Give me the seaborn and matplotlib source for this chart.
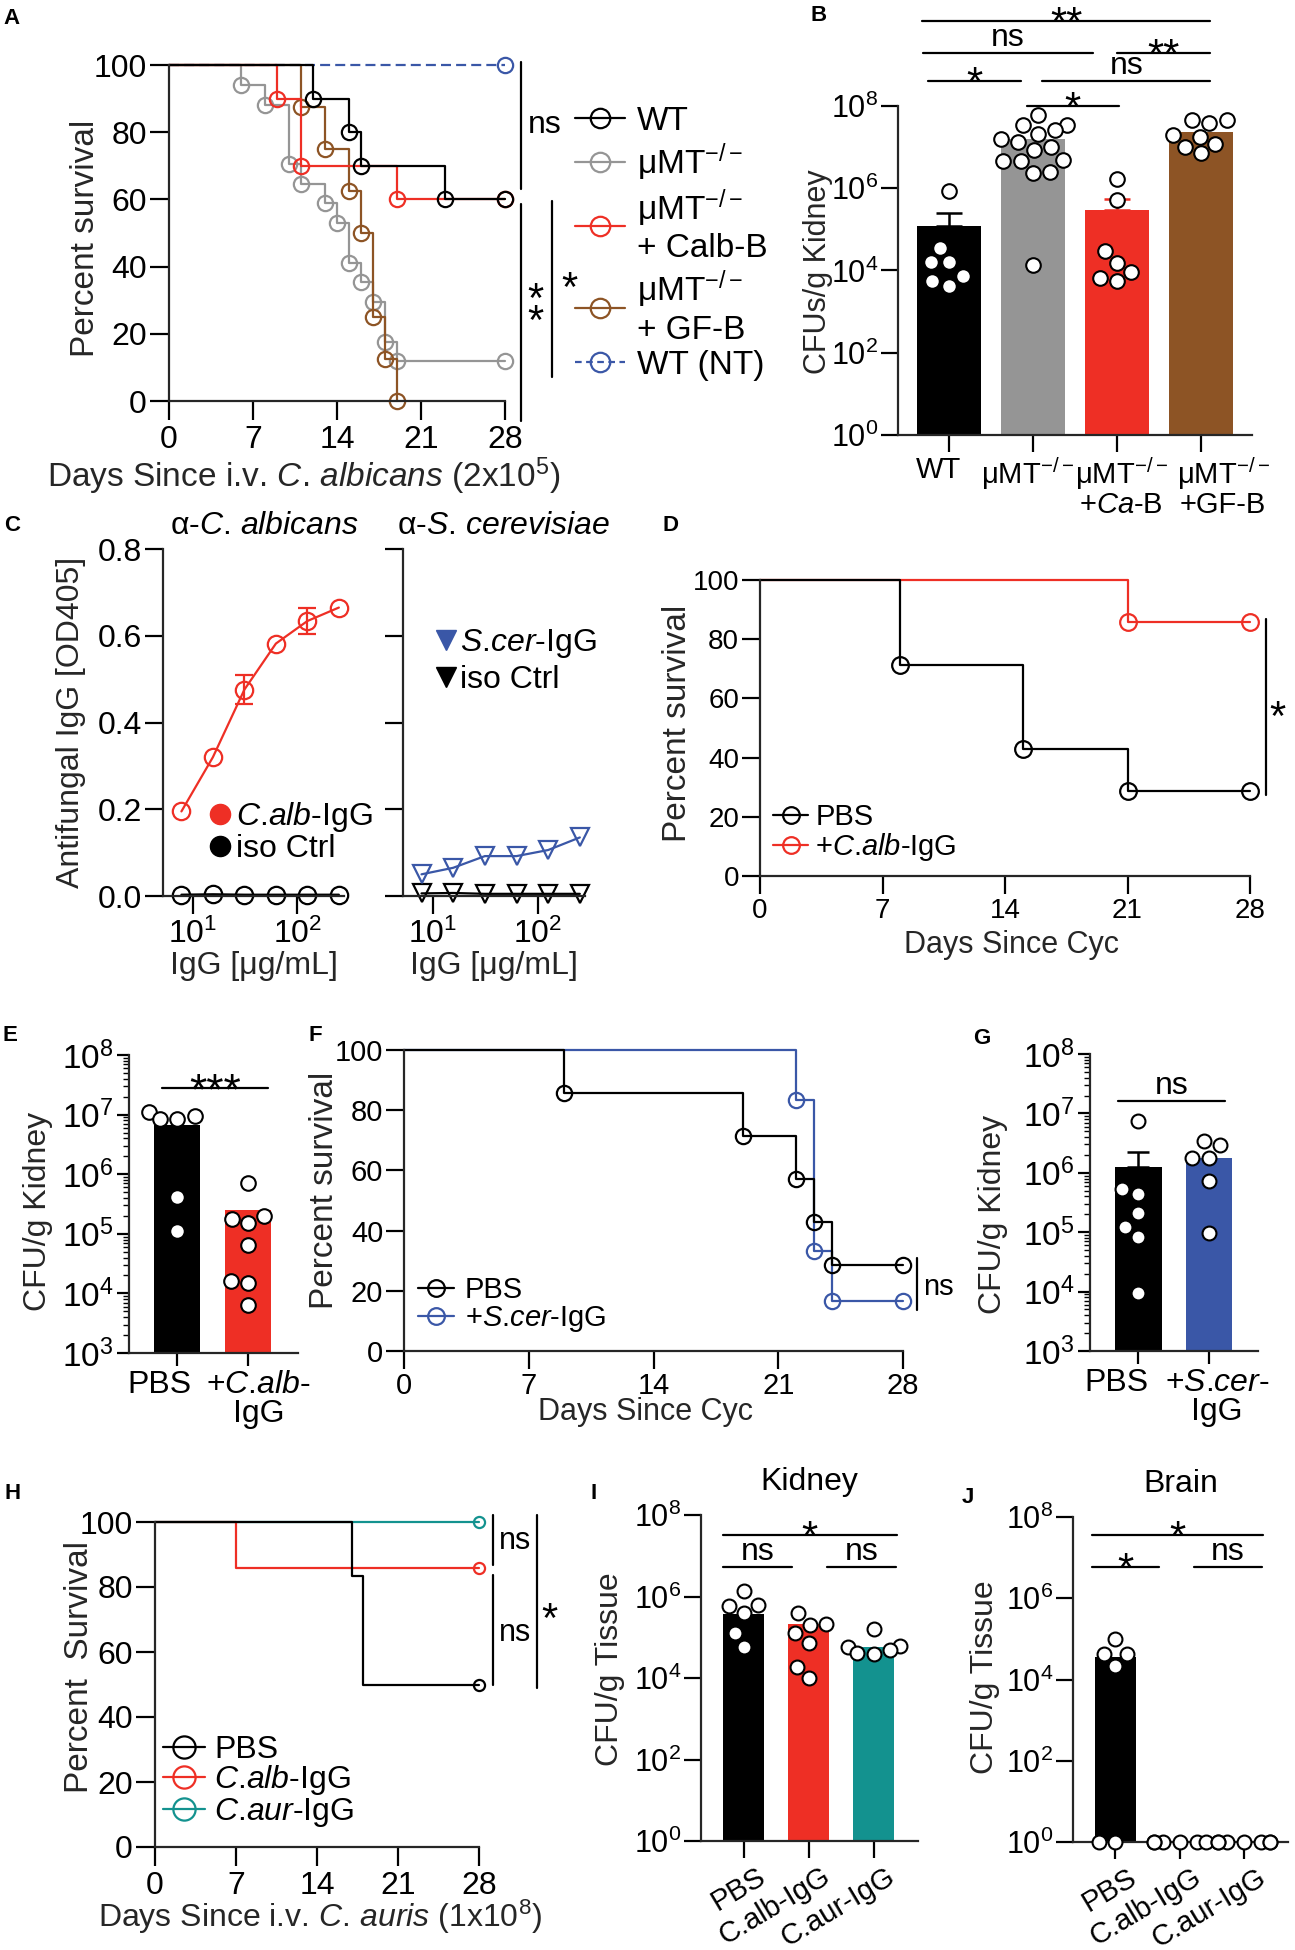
import numpy as np
import pandas as pd
import matplotlib
matplotlib.use("Agg")
import matplotlib.pyplot as plt
from matplotlib.lines import Line2D
from matplotlib.ticker import NullLocator, LogLocator
from matplotlib.transforms import ScaledTranslation
import seaborn as sns

# ---------------- data ----------------
days = [0, 7, 14, 21, 28]
pct_ticks = [0, 20, 40, 60, 80, 100]

# A: survival after i.v. C. albicans
a_wt_t = [0, 12, 15, 16, 23, 28]
a_wt_s = [100, 90, 80, 70, 60, 60]
a_mmt_t = [0, 6, 8, 10, 11, 13, 14, 15, 16, 17, 18, 19, 28]
a_mmt_s = [100, 94.1, 88.2, 70.6, 64.7, 58.8, 52.9, 41.2, 35.3, 29.4, 17.6, 11.8, 11.8]
a_calb_t = [0, 9, 11, 19, 28]
a_calb_s = [100, 90, 70, 60, 60]
a_gfb_t = [0, 11, 13, 15, 16, 17, 18, 19]
a_gfb_s = [100, 87.5, 75, 62.5, 50, 25, 12.5, 0]
a_nt_t = [0, 28]
a_nt_s = [100, 100]
a_legend = ["WT", "μMT$^{-/-}$", "μMT$^{-/-}$\n+ Calb-B", "μMT$^{-/-}$\n+ GF-B", "WT (NT)"]

# B: kidney CFU
b_groups = ["WT", "uMT", "uMT_CaB", "uMT_GFB"]
b_ticklabels = ["WT", "μMT$^{-/-}$", "μMT$^{-/-}$\n+$\\it{Ca}$-B", "μMT$^{-/-}$\n+GF-B"]
b_means = [1.2e5, 1.55e7, 3.0e5, 2.3e7]
b_sem = [1.3e5, 0, 2.6e5, 0]
b_wt = [8.7e5, 3.6e4, 1.6e4, 1.6e4, 7.5e3, 4.3e3, 5.5e3]
b_mmt = [6.0e7, 3.5e7, 3.5e7, 2.6e7, 2.1e7, 1.6e7, 1.35e7, 1.0e7, 8.5e6,
         4.9e6, 4.5e6, 4.5e6, 2.5e6, 2.3e6, 1.35e4]
b_cab = [1.66e6, 5.1e5, 2.9e4, 1.5e4, 9.3e3, 6.6e3, 5.5e3]
b_gfb = [4.6e7, 4.6e7, 3.9e7, 1.95e7, 1.8e7, 1.2e7, 1.0e7, 7.1e6]

# C: ELISA
c_conc = [7.8, 15.6, 31.25, 62.5, 125, 250]
c_calb = [0.195, 0.32, 0.476, 0.582, 0.634, 0.665]
c_calb_err = [0, 0, 0.034, 0, 0.03, 0]
c_calb_iso = [0.003, 0.004, 0.003, 0.003, 0.003, 0.003]
c_scer = [0.05, 0.065, 0.092, 0.092, 0.106, 0.135]
c_scer_iso = [0.006, 0.007, 0.005, 0.005, 0.005, 0.005]
od_ticks = [0.0, 0.2, 0.4, 0.6, 0.8]

# D: survival after Cyc, PBS vs C.alb-IgG
d_pbs_t = [0, 8, 15, 21, 28]
d_pbs_s = [100, 71.4, 42.9, 28.6, 28.6]
d_calb_t = [0, 21, 28]
d_calb_s = [100, 85.7, 85.7]

# E: kidney CFU, PBS vs C.alb-IgG
e_groups = ["PBS", "Calb"]
e_ticklabels = ["PBS", "+$\\it{C}$.$\\it{alb}$-\nIgG"]
e_means = [6.6e6, 2.5e5]
e_pbs = [1.1e7, 9.3e6, 8.5e6, 8.5e6, 4.1e5, 1.1e5]
e_calb = [7.1e5, 2.0e5, 1.8e5, 1.5e5, 6.6e4, 1.6e4, 1.5e4, 6.5e3]

# F: survival after Cyc, PBS vs S.cer-IgG
f_pbs_t = [0, 9, 19, 22, 23, 24, 28]
f_pbs_s = [100, 85.7, 71.4, 57.1, 42.9, 28.6, 28.6]
f_scer_t = [0, 22, 23, 24, 28]
f_scer_s = [100, 83.3, 33.3, 16.7, 16.7]

# G: kidney CFU, PBS vs S.cer-IgG
g_groups = ["PBS", "Scer"]
g_ticklabels = ["PBS", "+$\\it{S}$.$\\it{cer}$-\nIgG"]
g_means = [1.23e6, 1.8e6]
g_sem = [1.0e6, 0]
g_pbs = [7.4e6, 5.4e5, 4.4e5, 2.1e5, 1.2e5, 8.3e4, 9.3e3]
g_scer = [3.4e6, 2.9e6, 1.8e6, 1.8e6, 7.4e5, 9.8e4]

# H: survival after i.v. C. auris
h_pbs_t = [0, 17, 18, 28]
h_pbs_s = [100, 83.3, 50, 50]
h_calb_t = [0, 7, 28]
h_calb_s = [100, 85.7, 85.7]
h_caur_t = [0, 28]
h_caur_s = [100, 100]

# I / J: kidney and brain CFU
ij_groups = ["PBS", "Calb", "Caur"]
ij_ticklabels = ["PBS", "C.alb-IgG", "C.aur-IgG"]
i_means = [3.8e5, 2.1e5, 5.9e4]
i_pbs = [1.4e6, 6.2e5, 6.0e5, 3.9e5, 1.26e5, 5.9e4]
i_calb = [3.9e5, 2.1e5, 2.0e5, 1.26e5, 7.4e4, 1.9e4, 1.0e4]
i_caur = [1.55e5, 6.0e4, 5.9e4, 5.0e4, 4.0e4, 3.9e4]
j_means = [3.5e4, 1, 1]
j_pbs = [1.0e5, 4.3e4, 4.3e4, 2.2e4, 1, 1]
j_calb = [1, 1, 1, 1, 1, 1]
j_caur = [1, 1, 1, 1, 1, 1, 1]

log8_ticks = [1, 1e2, 1e4, 1e6, 1e8]
log8_labels = ["$10^0$", "$10^2$", "$10^4$", "$10^6$", "$10^8$"]
log38_ticks = [1e3, 1e4, 1e5, 1e6, 1e7, 1e8]
log38_labels = ["$10^3$", "$10^4$", "$10^5$", "$10^6$", "$10^7$", "$10^8$"]

# ---------------- style ----------------
BLACK, GRAY, RED, BROWN = "#000000", "#959595", "#ee2f25", "#8d5425"
BLUE, TEAL = "#3a57a7", "#13928f"
REG = ["Liberation Sans", "DejaVu Sans"]
LW = 1.6

sns.set_style("ticks")
plt.rcParams["font.family"] = REG
plt.rcParams["mathtext.fontset"] = "custom"
plt.rcParams["mathtext.rm"] = "Liberation Sans"
plt.rcParams["mathtext.it"] = "Liberation Sans:italic"
plt.rcParams["mathtext.bf"] = "Liberation Sans:bold"
plt.rcParams["axes.linewidth"] = LW
plt.rcParams["text.color"] = "black"
plt.rcParams["xtick.color"] = "black"
plt.rcParams["ytick.color"] = "black"

W, H = 1295, 1950
fig = plt.figure(figsize=(W / 100, H / 100), dpi=100)


def add_ax(x0, y0, x1, y1):
    return fig.add_axes([x0 / W, 1 - y1 / H, (x1 - x0) / W, (y1 - y0) / H])


def frame(ax, xlen=9, ylen=9):
    sns.despine(ax=ax)
    ax.set_facecolor("none")
    ax.tick_params(axis="x", which="major", length=xlen, width=LW, direction="out", pad=3)
    ax.tick_params(axis="y", which="major", length=ylen, width=LW, direction="out", pad=2)


def ylab(ax, text, x, y, size):
    ax.set_ylabel(text, fontsize=size)
    ax.yaxis.set_label_coords(x / W, 1 - y / H, transform=fig.transFigure)


def xlab(ax, text, x, y, size):
    ax.set_xlabel(text, fontsize=size)
    ax.xaxis.set_label_coords(x / W, 1 - y / H, transform=fig.transFigure)


def letter(ch, x, y):
    fig.text(x / W, 1 - y / H, ch, ha="left", va="top", fontsize=16, fontweight="bold")


def shift_labels(ax, dx_px):
    for lbl, dx in zip(ax.get_xticklabels(), dx_px):
        lbl.set_transform(lbl.get_transform() + ScaledTranslation(dx / 100, 0, fig.dpi_scale_trans))


def km(ax, t, s, color, ms, marks=None, ls="-", lw=LW):
    if marks is None:
        marks = list(range(1, len(t)))
    sns.lineplot(x=t, y=s, ax=ax, color=color, drawstyle="steps-post", estimator=None,
                 sort=False, linewidth=lw, linestyle=ls, marker="o", markevery=marks,
                 markersize=ms, markerfacecolor="none", markeredgecolor=color,
                 markeredgewidth=lw, clip_on=False, legend=False)


def km_handle(color, ms, ls="-"):
    return Line2D([], [], color=color, lw=LW, ls=ls, marker="o", ms=ms,
                  mfc="none", mec=color, mew=LW)


def survival_axes(ax, tick_size):
    ax.set_xlim(0, 28)
    ax.set_ylim(0, 100)
    ax.set_xticks(days)
    ax.set_xticklabels([str(d) for d in days], fontsize=tick_size)
    ax.set_yticks(pct_ticks)
    ax.set_yticklabels([str(p) for p in pct_ticks], fontsize=tick_size)


def legend_at(ax, handles, labels, x, y, size, **kw):
    opts = dict(loc="upper left", bbox_to_anchor=(x / W, 1 - y / H),
                bbox_transform=fig.transFigure, frameon=False, borderpad=0,
                borderaxespad=0, handletextpad=0.3, labelspacing=0.2, handlelength=1.3,
                prop={"size": size})
    opts.update(kw)
    ax.legend(handles, labels, **opts)


def bracket(ax, x1, x2, y, text, fs_ns=23, fs_ast=30, gap=3):
    ax.plot([x1, x2], [y, y], color="black", lw=LW, clip_on=False)
    xm = (x1 + x2) / 2
    if "*" in text:
        off = gap * 0.72 - 0.43 * fs_ast
        ax.annotate(text, (xm, y), xytext=(0, off), textcoords="offset points",
                    ha="center", va="baseline", fontsize=fs_ast, annotation_clip=False)
    else:
        ax.annotate(text, (xm, y), xytext=(0, 0), textcoords="offset points",
                    ha="center", va="bottom", fontsize=fs_ns, annotation_clip=False)


def vbar(ax, x, y1, y2):
    ax.plot([x, x], [y1, y2], color="black", lw=LW, clip_on=False)


def bar_panel(ax, groups, means, colors, points, width, msize, sem=None, capsize=9):
    ax.set_yscale("log")
    sns.barplot(x=groups, y=means, hue=groups, order=groups, hue_order=groups,
                palette=colors, saturation=1, width=width, errorbar=None, legend=False,
                linewidth=0, ax=ax)
    if sem is not None:
        for i, (m, s, c) in enumerate(zip(means, sem, colors)):
            if s > 0:
                ax.errorbar(i, m, yerr=[[0], [s]], fmt="none", ecolor=c, elinewidth=1.8,
                            capsize=capsize, capthick=1.8, zorder=2)
    df = pd.DataFrame({"g": np.repeat(groups, [len(p) for p in points]),
                       "v": np.concatenate(points)})
    sns.swarmplot(data=df, x="g", y="v", order=groups, color="white", edgecolor="black",
                  linewidth=1.5, size=msize, ax=ax, zorder=3, clip_on=False)
    ax.set_xlabel("")


def log_ticks(ax, ticks, labels, size, minor=False):
    ax.set_yticks(ticks)
    ax.set_yticklabels(labels, fontsize=size)
    if minor:
        ax.yaxis.set_minor_locator(LogLocator(base=10, subs=np.arange(2, 10), numticks=100))
        ax.tick_params(axis="y", which="minor", length=4, width=1.0, direction="out")
    else:
        ax.yaxis.set_minor_locator(NullLocator())


# ---------------- A ----------------
axA = add_ax(169, 65, 505, 401)
frame(axA, xlen=14, ylen=14)
km(axA, a_nt_t, a_nt_s, BLUE, 11, marks=[1], ls=(0, (4.5, 2.3)))
km(axA, a_mmt_t, a_mmt_s, GRAY, 11)
km(axA, a_gfb_t, a_gfb_s, BROWN, 11)
km(axA, a_calb_t, a_calb_s, RED, 11)
km(axA, a_wt_t, a_wt_s, BLACK, 11)
survival_axes(axA, 23)
ylab(axA, "Percent survival", 101, 238, 24)
xlab(axA, "Days Since i.v. $\\it{C}$. $\\it{albicans}$ (2x10$^5$)", 304, 456, 24)
vbar(axA, 29.3, 63, 101)
axA.text(31.3, 82, "ns", ha="center", va="center", fontsize=23, clip_on=False)
vbar(axA, 29.3, -6, 58.6)
axA.text(30.5, 26.5, "*\n*", ha="center", va="center", linespacing=0.42, fontsize=30,
         clip_on=False)
vbar(axA, 31.9, 7, 59.5)
axA.text(33.4, 33, "*", ha="center", va="center", fontsize=30, clip_on=False)
legend_at(axA, [km_handle(BLACK, 14), km_handle(GRAY, 14), km_handle(RED, 14),
                km_handle(BROWN, 14), km_handle(BLUE, 14, ls=(0, (3, 2)))],
          a_legend, 575, 106, 24, labelspacing=0.12, handlelength=1.5, handletextpad=0.35)
letter("A", 3, 8)

# ---------------- B ----------------
axB = add_ax(898, 106, 1252, 435)
frame(axB, xlen=12, ylen=12)
bar_panel(axB, b_groups, b_means, [BLACK, GRAY, RED, BROWN], [b_wt, b_mmt, b_cab, b_gfb],
          0.76, 10.5, sem=b_sem, capsize=9.5)
axB.set_xlim(-0.607, 3.607)
axB.set_ylim(1, 1e8)
log_ticks(axB, log8_ticks, log8_labels, 22)
axB.set_xticks(range(len(b_groups)))
axB.set_xticklabels(b_ticklabels, fontsize=21, linespacing=0.95)
shift_labels(axB, [-10, -6, 4, 22])
ylab(axB, "CFUs/g Kidney", 833, 272, 22)
bracket(axB, -0.32, 3.11, 10 ** 10.07, "**")
bracket(axB, -0.31, 1.71, 10 ** 9.29, "ns")
bracket(axB, 2.0, 3.11, 10 ** 9.29, "**")
bracket(axB, -0.25, 0.86, 10 ** 8.61, "*")
bracket(axB, 1.11, 3.11, 10 ** 8.61, "ns")
bracket(axB, 0.93, 2.02, 10 ** 8.0, "*")
letter("B", 810, 5)

# ---------------- C ----------------
axC1 = add_ax(163, 549, 344, 896)
axC2 = add_ax(403, 549, 585, 896)
for ax in (axC1, axC2):
    frame(ax, xlen=13, ylen=13)
    ax.set_xscale("log")
sns.lineplot(x=c_conc, y=c_calb_iso, ax=axC1, color=BLACK, estimator=None, sort=False,
             linewidth=LW, marker="o", markersize=12.5, markerfacecolor="none",
             markeredgecolor=BLACK, markeredgewidth=LW, clip_on=False)
sns.lineplot(x=c_conc, y=c_calb, ax=axC1, color=RED, estimator=None, sort=False,
             linewidth=LW, marker="o", markersize=12.5, markerfacecolor="none",
             markeredgecolor=RED, markeredgewidth=LW, clip_on=False)
err = np.array(c_calb_err)
has = err > 0
axC1.errorbar(np.array(c_conc)[has], np.array(c_calb)[has], yerr=err[has], fmt="none",
              ecolor=RED, elinewidth=LW, capsize=6.5, capthick=LW)
sns.lineplot(x=c_conc, y=c_scer_iso, ax=axC2, color=BLACK, estimator=None, sort=False,
             linewidth=LW, marker="v", markersize=13, markerfacecolor="none",
             markeredgecolor=BLACK, markeredgewidth=LW, clip_on=False)
sns.lineplot(x=c_conc, y=c_scer, ax=axC2, color=BLUE, estimator=None, sort=False,
             linewidth=LW, marker="v", markersize=13, markerfacecolor="none",
             markeredgecolor=BLUE, markeredgewidth=LW, clip_on=False)
for ax in (axC1, axC2):
    ax.set_xlim(5.2, 280)
    ax.set_ylim(0, 0.8)
    ax.set_xticks([10, 100])
    ax.set_xticklabels(["$10^1$", "$10^2$"], fontsize=23)
    ax.xaxis.set_minor_locator(NullLocator())
    ax.set_yticks(od_ticks)
axC1.set_yticklabels([f"{v:.1f}" for v in od_ticks], fontsize=23)
axC2.set_yticklabels([])
axC1.set_title("α-$\\it{C}$. $\\it{albicans}$", fontsize=23, pad=11, x=0.56)
axC2.set_title("α-$\\it{S}$. $\\it{cerevisiae}$", fontsize=23, pad=11, x=0.55)
ylab(axC1, "Antifungal IgG [OD405]", 86, 722, 23)
xlab(axC1, "IgG [μg/mL]", 254, 951, 23)
xlab(axC2, "IgG [μg/mL]", 494, 951, 23)
legend_at(axC1, [Line2D([], [], ls="none", marker="o", color=RED, ms=14.5),
                 Line2D([], [], ls="none", marker="o", color=BLACK, ms=14.5)],
          ["$\\it{C}$.$\\it{alb}$-IgG", "iso Ctrl"], 207, 800, 23,
          handlelength=0.8, handletextpad=0.1, labelspacing=0.0)
legend_at(axC2, [Line2D([], [], ls="none", marker="v", color=BLUE, ms=14),
                 Line2D([], [], ls="none", marker="v", color=BLACK, ms=14)],
          ["$\\it{S}$.$\\it{cer}$-IgG", "iso Ctrl"], 433, 627, 23,
          handlelength=0.8, handletextpad=0.05, labelspacing=0.15)
letter("C", 4, 515)

# ---------------- D ----------------
axD = add_ax(760, 580, 1250, 876)
frame(axD, xlen=13, ylen=13)
km(axD, d_calb_t, d_calb_s, RED, 12)
km(axD, d_pbs_t, d_pbs_s, BLACK, 12)
survival_axes(axD, 20)
ylab(axD, "Percent survival", 693, 723, 24)
xlab(axD, "Days Since Cyc", 1011, 930, 22)
vbar(axD, 28.9, 27.5, 86.9)
axD.text(29.1, 53, "*", ha="left", va="center", fontsize=30, clip_on=False)
legend_at(axD, [km_handle(BLACK, 12), km_handle(RED, 12)],
          ["PBS", "+$\\it{C}$.$\\it{alb}$-IgG"], 773, 803, 21,
          handlelength=1.2, handletextpad=0.25, labelspacing=0.0)
letter("D", 663, 515)

# ---------------- E ----------------
axE = add_ax(129, 1055, 298, 1353)
frame(axE, xlen=9, ylen=9)
bar_panel(axE, e_groups, e_means, [BLACK, RED], [e_pbs, e_calb], 0.65, 10.5)
axE.set_xlim(-0.68, 1.70)
axE.set_ylim(1e3, 1e8)
log_ticks(axE, log38_ticks, log38_labels, 24, minor=True)
axE.set_xticks(range(len(e_groups)))
axE.set_xticklabels(e_ticklabels, fontsize=23, linespacing=0.95)
shift_labels(axE, [-18, 10])
ylab(axE, "CFU/g Kidney", 53, 1211, 23)
bracket(axE, -0.21, 1.28, 10 ** 7.45, "***", fs_ast=32)
letter("E", 3, 1025)

# ---------------- F ----------------
axF = add_ax(404, 1050, 903, 1351)
frame(axF, xlen=13, ylen=13)
km(axF, f_scer_t, f_scer_s, BLUE, 11)
km(axF, f_pbs_t, f_pbs_s, BLACK, 11)
survival_axes(axF, 21)
axF.tick_params(axis="x", pad=2)
ylab(axF, "Percent survival", 340, 1190, 24)
xlab(axF, "Days Since Cyc", 646, 1397, 22)
vbar(axF, 28.8, 13.6, 30.9)
axF.text(29.1, 21.3, "ns", ha="left", va="center", fontsize=21, clip_on=False)
legend_at(axF, [km_handle(BLACK, 12), km_handle(BLUE, 12)],
          ["PBS", "+$\\it{S}$.$\\it{cer}$-IgG"], 418, 1276, 21,
          handlelength=1.25, handletextpad=0.35, labelspacing=0.0)
letter("F", 308, 1025)

# ---------------- G ----------------
axG = add_ax(1090, 1054, 1258, 1351)
frame(axG, xlen=9, ylen=9)
bar_panel(axG, g_groups, g_means, [BLACK, BLUE], [g_pbs, g_scer], 0.66, 10, sem=g_sem,
          capsize=8)
axG.set_xlim(-0.68, 1.69)
axG.set_ylim(1e3, 1e8)
log_ticks(axG, log38_ticks, log38_labels, 24, minor=True)
axG.set_xticks(range(len(g_groups)))
axG.set_xticklabels(g_ticklabels, fontsize=23, linespacing=0.95)
shift_labels(axG, [-22, 8])
ylab(axG, "CFU/g Kidney", 1008, 1214, 23)
bracket(axG, -0.28, 1.23, 10 ** 7.21, "ns")
letter("G", 973, 1028)

# ---------------- H ----------------
axH = add_ax(155, 1522, 479, 1847)
frame(axH, xlen=14, ylen=14)
km(axH, h_caur_t, h_caur_s, TEAL, 8, marks=[1])
km(axH, h_calb_t, h_calb_s, RED, 8, marks=[2])
km(axH, h_pbs_t, h_pbs_s, BLACK, 8, marks=[3])
survival_axes(axH, 23)
ylab(axH, "Percent  Survival", 95, 1667, 24)
xlab(axH, "Days Since i.v. $\\it{C}$. $\\it{auris}$ (1x10$^8$)", 320, 1898, 23)
vbar(axH, 29.2, 86.8, 102.2)
axH.text(29.7, 94.2, "ns", ha="left", va="center", fontsize=22, clip_on=False)
vbar(axH, 29.2, 49.8, 83.7)
axH.text(29.7, 65.8, "ns", ha="left", va="center", fontsize=22, clip_on=False)
vbar(axH, 33.0, 48.9, 102.2)
axH.text(33.4, 69.5, "*", ha="left", va="center", fontsize=30, clip_on=False)
legend_at(axH, [km_handle(BLACK, 16), km_handle(RED, 16), km_handle(TEAL, 16)],
          ["PBS", "$\\it{C}$.$\\it{alb}$-IgG", "$\\it{C}$.$\\it{aur}$-IgG"], 163, 1735, 23,
          handlelength=1.3, handletextpad=0.3, labelspacing=-0.05)
letter("H", 4, 1483)

# ---------------- I / J ----------------
axI = add_ax(701, 1515, 918, 1841)
axJ = add_ax(1073, 1517, 1288, 1842)
for ax, means, pts, title in ((axI, i_means, [i_pbs, i_calb, i_caur], "Kidney"),
                              (axJ, j_means, [j_pbs, j_calb, j_caur], "Brain")):
    frame(ax, xlen=12, ylen=12)
    bar_panel(ax, ij_groups, means, [BLACK, RED, TEAL], pts, 0.63, 10)
    ax.set_xlim(-0.66, 2.68)
    ax.set_ylim(1, 1e8)
    log_ticks(ax, log8_ticks, log8_labels, 22)
    ax.set_xticks(range(len(ij_groups)))
    ax.set_xticklabels(ij_ticklabels, fontsize=21, rotation=31, ha="right",
                       rotation_mode="anchor")
    shift_labels(ax, [12, 12, 12])
    ax.set_title(title, fontsize=23, pad=18)
ylab(axI, "CFU/g Tissue", 625, 1669, 23)
ylab(axJ, "CFU/g Tissue", 1000, 1677, 23)
bracket(axI, -0.32, 2.35, 10 ** 7.51, "*")
bracket(axI, -0.32, 0.74, 10 ** 6.72, "ns")
bracket(axI, 1.28, 2.34, 10 ** 6.72, "ns")
bracket(axJ, -0.37, 2.29, 10 ** 7.56, "*")
bracket(axJ, -0.37, 0.68, 10 ** 6.77, "*")
bracket(axJ, 1.22, 2.28, 10 ** 6.77, "ns")
letter("I", 590, 1483)
letter("J", 962, 1487)

fig.savefig("out.png", dpi=100, facecolor="white")
